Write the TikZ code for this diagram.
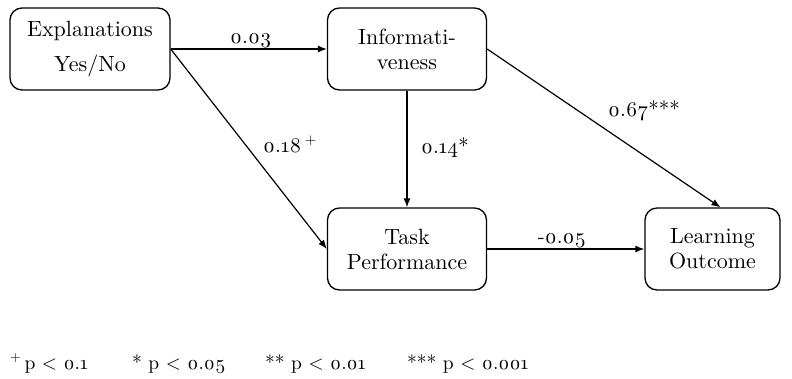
\documentclass[tikz,border=0pt]{standalone}
\usepackage{fontspec}
\setmainfont{lmroman10-regular.otf}[Numbers=OldStyle]
\usetikzlibrary{arrows.meta,calc}
\tikzset{
  box/.style={draw, line width=1.3pt, rounded corners=12pt, align=center,
    inner sep=0pt, font=\fontsize{22}{25}\selectfont},
  link/.style={draw, line width=1.2pt, -{Latex[length=9pt,width=7pt]}},
  coef/.style={anchor=base, inner sep=0pt, font=\fontsize{21}{24}\selectfont},
  key/.style={anchor=base west, inner sep=0pt, font=\fontsize{19.5}{23}\selectfont}
}
\begin{document}
\begin{tikzpicture}[x=1pt,y=-1pt]
\useasboundingbox (0,0) rectangle (792,378);
% variables
\node[box, minimum width=160pt, minimum height=82pt] (expl) at (90,49)
  {Explanations\\[10pt]Yes/No};
\node[box, minimum width=159pt, minimum height=82pt] (info) at (407,49)
  {Informati-\\veness};
\node[box, minimum width=159pt, minimum height=82pt] (task) at (407,249)
  {Task\\Performance};
\node[box, minimum width=135pt, minimum height=82pt] (learn) at (712.5,249)
  {Learning\\Outcome};
% paths
\draw[link] (expl.east) -- (info.west);
\draw[link] (expl.east) -- (task.west);
\draw[link] (info.south) -- (task.north);
\draw[link] (info.east) -- ([xshift=8pt]learn.north);
\draw[link] (task.east) -- (learn.west);
% path coefficients
\node[coef] (c1) at (251,43) {0.03};
\node[coef] (c2) at (290,152) {0.18\,\textsuperscript{+}};
\node[coef] (c3) at (445,153) {0.14*};
\node[coef] (c4) at (644,116) {0.67***};
\node[coef] (c5) at (562,243) {-0.05};
% significance key
\node[key] (k1) at (10,369) {\textsuperscript{+}\,p < 0.1};
\node[key] (k2) at (132,369) {* p < 0.05};
\node[key] (k3) at (265,369) {** p < 0.01};
\node[key] (k4) at (407,369) {*** p < 0.001};
\end{tikzpicture}
\end{document}
